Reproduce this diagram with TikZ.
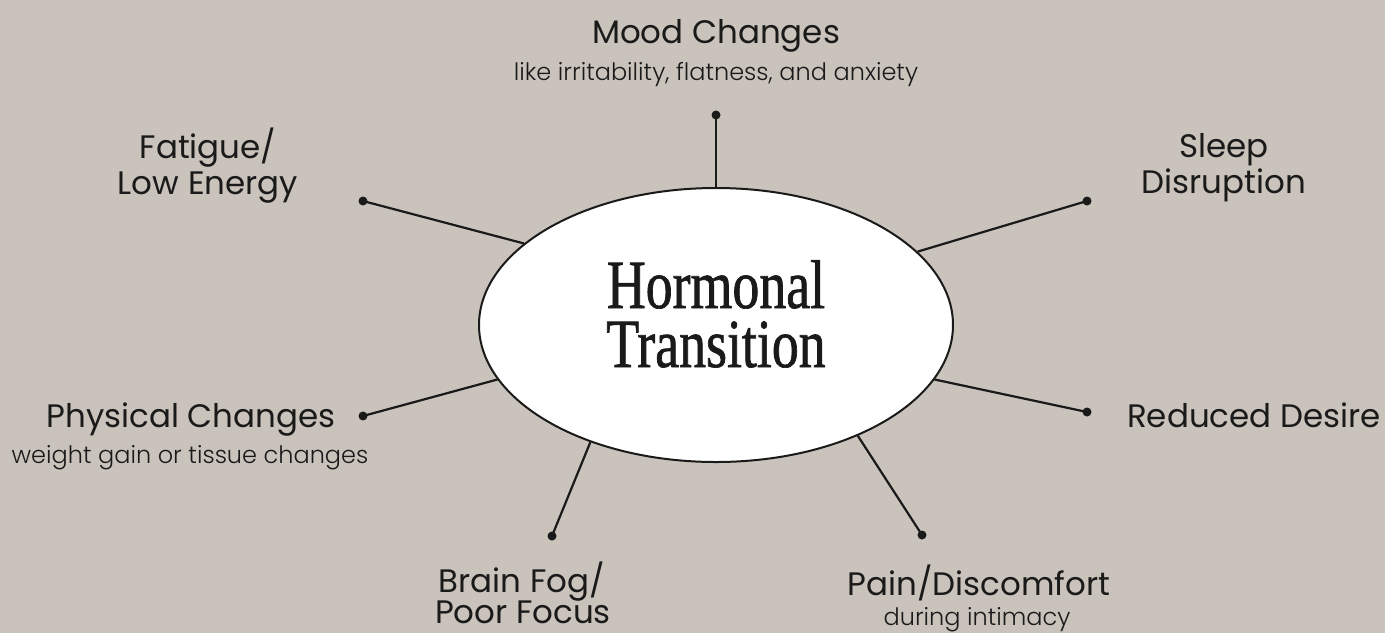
\documentclass[tikz,border=0pt]{standalone}
\usepackage{fontspec}
\setmainfont{Poppins}
\newfontfamily\lightfont{Poppins Light}
\newfontfamily\titlefont[FakeStretch=0.78, FakeBold=1]{Liberation Serif}
\usetikzlibrary{positioning, shapes.geometric}
\definecolor{paper}{HTML}{C9C3BC}
\definecolor{ink}{HTML}{1A1A1A}

\tikzset{
  head/.style={font=\fontsize{32.5}{36}\selectfont, text=ink, anchor=base, inner sep=0pt},
  sub/.style={font=\lightfont\fontsize{24}{26}\selectfont, text=ink, anchor=base, inner sep=0pt},
  big/.style={font=\titlefont\fontsize{69}{59}\selectfont, text=ink, anchor=base, inner sep=0pt},
  spoke/.style={draw=ink, line width=2.2pt},
  knob/.style={fill=ink, circle, inner sep=0pt, minimum size=9pt}
}

\begin{document}
\begin{tikzpicture}[x=1pt, y=-1pt]
    \useasboundingbox (0,0) rectangle (1385,633);
    \fill[paper] (0,0) rectangle (1385,633);

    % centre
    \node[ellipse, draw=ink, line width=2pt, fill=white, minimum width=474pt,
          minimum height=274pt, inner sep=0pt] (hub) at (716,325) {};
    \node[big] (title) at (716,308) {Hormonal};
    \node[big] (title2) at (716,367) {Transition};

    % end dots
    \node[knob] (mooddot) at (716,115) {};
    \node[knob] (fatiguedot) at (363,201) {};
    \node[knob] (sleepdot) at (1087,201) {};
    \node[knob] (physdot) at (363,416) {};
    \node[knob] (desiredot) at (1087,412) {};
    \node[knob] (braindot) at (552,536) {};
    \node[knob] (paindot) at (922,535) {};

    % spokes
    \draw[spoke] (mooddot.center) -- (hub.90);
    \draw[spoke] (fatiguedot.center) -- (hub.157.3);
    \draw[spoke] (sleepdot.center) -- (hub.20.4);
    \draw[spoke] (physdot.center) -- (hub.194.1);
    \draw[spoke] (desiredot.center) -- (hub.346.9);
    \draw[spoke] (braindot.center) -- (hub.223.6);
    \draw[spoke] (paindot.center) -- (hub.322.9);

    % labels
    \node[head] (moodhead) at (716,43) {Mood Changes};
    \node[sub] (moodsub) at (716,80) {like irritability, flatness, and anxiety};
    \node[head] (fatiguehead) at (208,158) {Fatigue/};
    \node[head] (fatiguehead2) at (208,194) {Low Energy};
    \node[head] (sleephead) at (1224,157) {Sleep};
    \node[head] (sleephead2) at (1224,193) {Disruption};
    \node[head] (physhead) at (191,427) {Physical Changes};
    \node[sub] (physsub) at (190,463) {weight gain or tissue changes};
    \node[head] (desirehead) at (1254,427) {Reduced Desire};
    \node[head] (brainhead) at (522,592) {Brain Fog/};
    \node[head] (brainhead2) at (523,623) {Poor Focus};
    \node[head] (painhead) at (979,595) {Pain/Discomfort};
    \node[sub] (painsub) at (977,625) {during intimacy};
\end{tikzpicture}
\end{document}
